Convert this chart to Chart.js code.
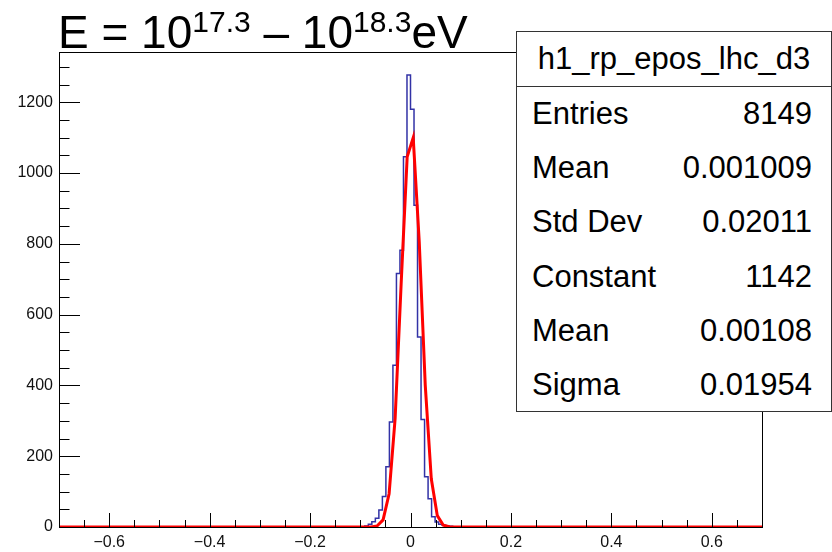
<!DOCTYPE html>
<html>
<head>
<meta charset="utf-8">
<script src="https://cdn.jsdelivr.net/npm/chart.js@4.4.1/dist/chart.umd.min.js"></script>
<style>
  html, body { margin: 0; padding: 0; background: #fff; }
  #wrap { position: relative; width: 832px; height: 552px; font-family: "Liberation Sans", Arial, sans-serif; }
  #title { position: absolute; left: 58px; top: 9px; font-size: 46px; line-height: 46px; color: #000; white-space: nowrap; }
  #title .sup { font-size: 30px; position: relative; top: -16px; }
  #stats { position: absolute; left: 516px; top: 31px; width: 316px; height: 381px; box-sizing: border-box;
           border: 1px solid #333; background: #fff; color: #000; font-size: 31px; }
  #stats .head { height: 55px; line-height: 54px; text-align: center; border-bottom: 1px solid #333; box-sizing: border-box; }
  #stats .row { height: 54.2px; line-height: 54.2px; display: flex; justify-content: space-between; padding: 0 19px 0 15px; }
</style>
</head>
<body>
<div id="wrap">
  <canvas id="chart" width="832" height="552"></canvas>
  <div id="title">E = 10<span class="sup">17.3</span> – 10<span class="sup">18.3</span>eV</div>
  <div id="stats"></div>
</div>
<script>
// --- Histogram data ---
const histName = 'h1_rp_epos_lhc_d3';
const xMin = -0.7;
const xMax = 0.7;
const binWidth = 0.007;
const firstBinLow = -0.105; // low edge of the first listed bin, all other bins are empty
const counts = [1, 0, 1, 3, 8, 15, 25, 48, 86, 170,
                297, 457, 716, 782, 1046, 1277, 1180, 909, 537, 304,
                142, 80, 29, 14, 8, 5, 3, 2, 1, 1,
                0, 1, 0, 0, 1];

// --- Gaussian fit curve, vertices ---
const fitX = [-0.7, -0.0906, -0.0786, -0.0666, -0.0546, -0.0426, -0.0306, -0.0186, -0.0066,
              0.0054, 0.0174, 0.0294, 0.0414, 0.0534, 0.0654, 0.0774, 0.0894, 0.7];
const fitY = [0, 0, 0.3, 3, 20, 94, 307, 688, 1046,
              1100, 806, 400, 136, 32, 5, 0.6, 0, 0];

// --- Axes ---
const yMax = 1342;
const xTicks = [-0.6, -0.4, -0.2, 0, 0.2, 0.4, 0.6];
const yTicks = [0, 200, 400, 600, 800, 1000, 1200];
const xMinorStep = 0.05;
const yMinorStep = 50;

// --- Stats box ---
const statLabels = ['Entries', 'Mean', 'Std Dev', 'Constant', 'Mean', 'Sigma'];
const statValues = ['8149', '0.001009', '0.02011', '1142', '0.00108', '0.01954'];

function buildStatsBox() {
    const box = document.getElementById('stats');
    const head = document.createElement('div');
    head.className = 'head';
    head.textContent = histName;
    box.appendChild(head);
    statLabels.forEach((label, i) => {
        const row = document.createElement('div');
        row.className = 'row';
        const l = document.createElement('span'); l.textContent = label;
        const v = document.createElement('span'); v.textContent = statValues[i];
        row.appendChild(l); row.appendChild(v);
        box.appendChild(row);
    });
}

function histPoints() {
    const pts = [{ x: xMin, y: 0 }];
    counts.forEach((c, i) => pts.push({ x: firstBinLow + i * binWidth, y: c }));
    pts.push({ x: firstBinLow + counts.length * binWidth, y: 0 });
    pts.push({ x: xMax, y: 0 });
    return pts;
}

function fmtTick(v) {
    if (v === 0) return '0';
    return v < 0 ? '\u2212' + Math.abs(v) : String(v);
}

// frame + inward ROOT style ticks
const frameTicks = {
    id: 'frameTicks',
    afterDatasetsDraw(chart) {
        const { ctx, chartArea: a, scales: { x, y } } = chart;
        ctx.save();
        ctx.strokeStyle = '#000';
        ctx.lineWidth = 1;
        ctx.strokeRect(a.left + 0.5, a.top + 0.5, a.right - a.left, a.bottom - a.top);

        const xMajLen = 14, xMinLen = 7, yMajLen = 21, yMinLen = 10.5;
        ctx.beginPath();
        for (let v = -0.65; v <= 0.651; v += xMinorStep) {
            const val = Math.round(v * 100) / 100;
            const px = Math.round(x.getPixelForValue(val)) + 0.5;
            const major = xTicks.some(t => Math.abs(t - val) < 1e-6);
            ctx.moveTo(px, a.bottom);
            ctx.lineTo(px, a.bottom - (major ? xMajLen : xMinLen));
        }
        for (let v = 0; v <= yMax; v += yMinorStep) {
            const py = Math.round(y.getPixelForValue(v)) + 0.5;
            const major = v % 200 === 0;
            ctx.moveTo(a.left, py);
            ctx.lineTo(a.left + (major ? yMajLen : yMinLen), py);
        }
        ctx.stroke();
        ctx.restore();
    }
};

const tickFont = { family: '"Liberation Sans", Arial, sans-serif', size: 16 };

const ctx = document.getElementById('chart').getContext('2d');
new Chart(ctx, {
    type: 'line',
    data: {
        datasets: [
            {
                label: 'gaus fit',
                data: fitX.map((x, i) => ({ x: x, y: fitY[i] })),
                borderColor: '#ff0000',
                borderWidth: 3,
                pointRadius: 0,
                tension: 0,
                fill: false
            },
            {
                label: histName,
                data: histPoints(),
                borderColor: '#3232a6',
                borderWidth: 1.5,
                pointRadius: 0,
                stepped: 'after',
                fill: false
            }
        ]
    },
    options: {
        responsive: false,
        animation: false,
        devicePixelRatio: 1,
        layout: { padding: { left: 0, top: 52, right: 70, bottom: 0 } },
        plugins: { legend: { display: false }, tooltip: { enabled: false }, title: { display: false } },
        scales: {
            x: {
                type: 'linear',
                min: xMin,
                max: xMax,
                grid: { display: false, drawTicks: false, tickLength: 0 },
                border: { display: false },
                afterBuildTicks: s => { s.ticks = xTicks.map(v => ({ value: v })); },
                afterFit: s => { s.height = 25; },
                ticks: {
                    callback: v => fmtTick(v),
                    color: '#111',
                    padding: 6,
                    maxRotation: 0,
                    autoSkip: false,
                    font: tickFont
                }
            },
            y: {
                type: 'linear',
                min: 0,
                max: yMax,
                grid: { display: false, drawTicks: false, tickLength: 0 },
                border: { display: false },
                afterBuildTicks: s => { s.ticks = yTicks.map(v => ({ value: v })); },
                afterFit: s => { s.width = 59; },
                ticks: {
                    callback: v => String(v),
                    color: '#111',
                    padding: 6,
                    autoSkip: false,
                    font: tickFont
                }
            }
        }
    },
    plugins: [frameTicks]
});

buildStatsBox();
</script>
</body>
</html>
